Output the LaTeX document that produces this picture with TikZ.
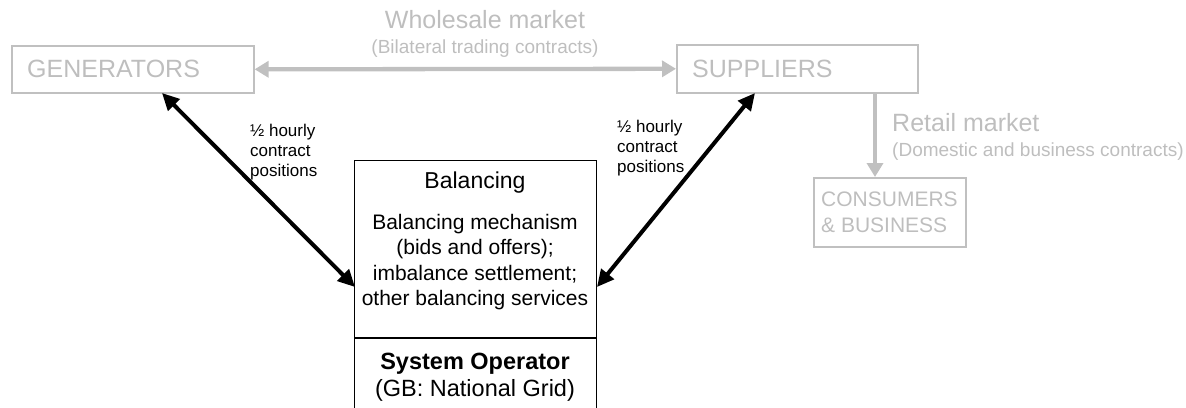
\documentclass[tikz,border=0pt]{standalone}
\usepackage{fontspec}
\setmainfont{Liberation Sans}
\usetikzlibrary{arrows.meta}
\definecolor{lg}{RGB}{192,192,192}
\definecolor{lgt}{RGB}{190,190,190}
\tikzset{
  gbox/.style={draw=lg, line width=1.6pt, inner sep=0pt, anchor=north west},
  bbox/.style={draw=black, line width=1.2pt, inner sep=0pt, anchor=north west},
  gtext/.style={text=lgt, inner sep=0pt},
  btext/.style={text=black, inner sep=0pt},
  garrow/.style={draw=lg, line width=4.3pt, -{Triangle[length=14pt,width=16pt]}},
  gdarrow/.style={draw=lg, line width=4.3pt, {Triangle[length=14pt,width=16pt]}-{Triangle[length=14pt,width=16pt]}},
  barrow/.style={draw=black, line width=4pt, {Triangle[length=17pt,width=16pt]}-{Triangle[length=17pt,width=16pt]}},
  big/.style={font=\fontsize{25}{30}\selectfont},
  sub/.style={font=\fontsize{19}{23}\selectfont},
  small/.style={font=\fontsize{17}{20}\selectfont, align=left},
}
\begin{document}
\begin{tikzpicture}[x=1pt,y=-1pt]
\useasboundingbox (0,0) rectangle (1186,407);
\clip (0,0) rectangle (1186,407);
% gray boxes
\node[gbox, minimum width=242pt, minimum height=47pt] (gen) at (11,45) {};
\node[gbox, minimum width=241pt, minimum height=48pt] (sup) at (676,44) {};
\node[gbox, minimum width=152pt, minimum height=69pt] (cons) at (813,177) {};
\node[gtext, big, anchor=west] (gentext) at (27,69) {GENERATORS};
\node[gtext, big, anchor=west] (suptext) at (692,69) {SUPPLIERS};
\node[gtext, align=left, anchor=west, font=\fontsize{21}{26}\selectfont] (constext) at (821,212) {CONSUMERS\\\& BUSINESS};
% market labels
\node[gtext, big] (whole) at (485,20) {Wholesale market};
\node[gtext, sub] (bilat) at (485,49) {(Bilateral trading contracts)};
\node[gtext, big, anchor=west] (retail) at (892,123) {Retail market};
\node[gtext, sub, anchor=west] (domestic) at (892,152) {(Domestic and business contracts)};
% gray arrows
\draw[gdarrow] (gen.east) -- (sup.west);
\coordinate (vtop) at (875,92);
\draw[garrow] (vtop) -- (vtop |- cons.north);
% balancing box
\node[bbox, minimum width=242pt, minimum height=252pt] (bal) at (354,160) {};
\coordinate (divl) at (354,338);
\coordinate (divr) at (596,338);
\draw[black, line width=1.2pt] (divl) -- (divr);
\node[btext, font=\fontsize{23}{27}\selectfont] (baltitle) at (475,183) {Balancing};
\node[btext, align=center, font=\fontsize{21}{25.5}\selectfont] (balbody) at (475,262) {Balancing mechanism\\(bids and offers);\\imbalance settlement;\\other balancing services};
\node[btext, align=center, font=\fontsize{23.5}{27}\selectfont] (sysop) at (475,377) {\textbf{System Operator}\\(GB: National Grid)};
% black arrows
\coordinate (gtip) at (162,93);
\coordinate (bltip) at (355,287);
\coordinate (stip) at (755,93);
\coordinate (brtip) at (597,287);
\draw[barrow] (gtip) -- (bltip);
\draw[barrow] (stip) -- (brtip);
\node[btext, small, anchor=west] (lablL) at (250,152) {½ hourly\\contract\\positions};
\node[btext, small, anchor=west] (lablR) at (617,148) {½ hourly\\contract\\positions};
\end{tikzpicture}
\end{document}
